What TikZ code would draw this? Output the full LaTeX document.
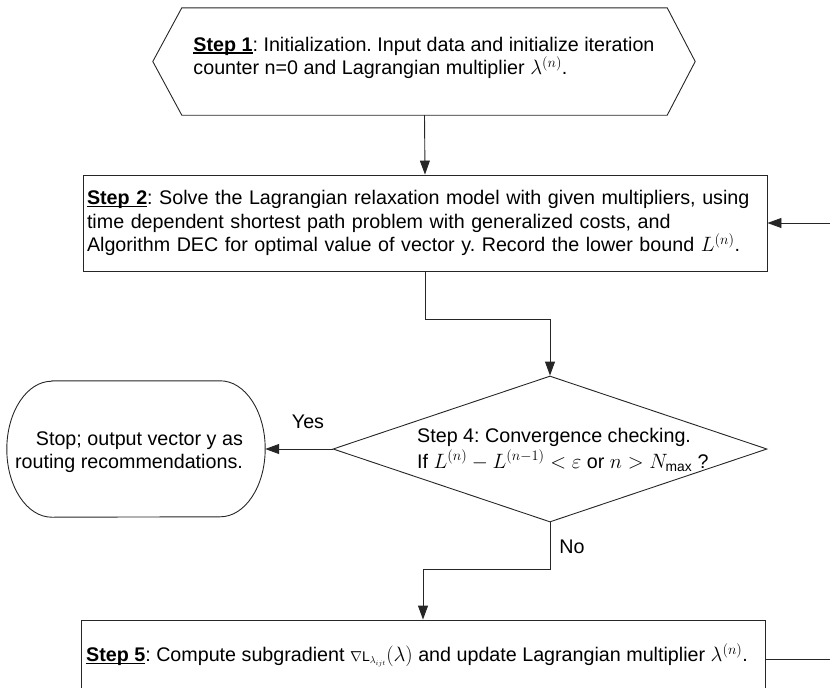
\documentclass[tikz,border=0pt]{standalone}
\usepackage{fontspec}
\setmainfont{Liberation Sans}
\usetikzlibrary{arrows.meta,calc,shapes.geometric}

% bold step label with a tight underline
\newcommand{\steplabel}[1]{\setbox0=\hbox{\textbf{#1}}\rlap{\rule[-2.2pt]{\wd0}{1.1pt}}\box0}

\begin{document}
\frenchspacing
\begin{tikzpicture}[x=1pt,y=-1pt,
  line/.style={draw=black!85, line width=0.9pt},
  arr/.style={line, -{Triangle[length=14pt,width=10pt]}},
  txt/.style={font=\fontsize{19.7}{23.5}\selectfont, inner sep=0pt, align=left},
  frame/.style={line, rectangle, inner sep=4pt, align=left,
                font=\fontsize{19.7}{23.5}\selectfont},
]
\useasboundingbox (0,0) rectangle (830,688);

% Step 1: hexagonal preparation block
\node[minimum width=485, minimum height=107, inner sep=0pt] (s1) at (424.5,61.5) {};
\draw[line] (s1.north west) -- (s1.north east) -- ($(s1.east)+(28,0)$)
  -- (s1.south east) -- (s1.south west) -- ($(s1.west)+(-29,0)$) -- cycle;
\node[txt, font=\fontsize{19.7}{21}\selectfont] (t1) at (424,58)
  {\steplabel{Step 1}: Initialization. Input data and initialize iteration\\
   counter n=0 and Lagrangian multiplier $\lambda^{(n)}$.};

% Step 2: relaxation block
\node[frame, minimum width=684, minimum height=96, text width=676] (s2) at (425,223)
  {\steplabel{Step 2}: Solve the Lagrangian relaxation model with given multipliers, using\\
   time dependent shortest path problem with generalized costs, and\\
   Algorithm DEC for optimal value of vector y. Record the lower bound $L^{(n)}$.};

% Step 4: convergence test
\node[diamond, line, minimum width=434, minimum height=146, inner sep=0pt] (d4) at (550,449) {};
\node[txt, anchor=west, font=\fontsize{19.7}{26}\selectfont] (t4) at (417,450)
  {Step 4: Convergence checking.\\
   If $L^{(n)}-L^{(n-1)}<\varepsilon$ or $n>N_{\max}$ ?};

% terminal block
\node[minimum width=258, minimum height=136, inner sep=0pt] (st) at (136,449) {};
\draw[line] ($(st.north west)+(45,0)$) -- ($(st.north east)+(-45,0)$)
  arc[start angle=-90, end angle=90, x radius=45, y radius=68]
  -- ($(st.south west)+(45,0)$)
  arc[start angle=90, end angle=270, x radius=45, y radius=68] -- cycle;
\node[txt, align=right] (tst) at (129,452)
  {Stop; output vector y as\\ routing recommendations.};

% Step 5: multiplier update
\node[line, rectangle, minimum width=684, minimum height=74, inner sep=0pt] (s5) at (423,657) {};
\node[txt, anchor=west] (t5) at (86,655)
  {\steplabel{Step 5}: Compute subgradient
   {\fontsize{14}{14}\selectfont$\nabla\mathrm{L}_{\lambda_{ijt}}$}$(\lambda)$
   and update Lagrangian multiplier $\lambda^{(n)}$.};

% connectors
\coordinate (e2) at (830,223);
\coordinate (e5) at (830,659);
\draw[arr] (s1.south) -- (s2.north);
\draw[arr] (s2.south) -- ++(0,48) -| (d4.north);
\draw[arr] (d4.west) -- (st.east);
\draw[arr] (d4.south) -- ++(0,47) -| (s5.north);
\draw[arr] (e2) -- (s2.east);
\draw[line] (s5.east |- e5) -- (e5);

\node[txt] (yes) at (308,422) {Yes};
\node[txt] (no) at (572,547) {No};
\end{tikzpicture}
\end{document}
